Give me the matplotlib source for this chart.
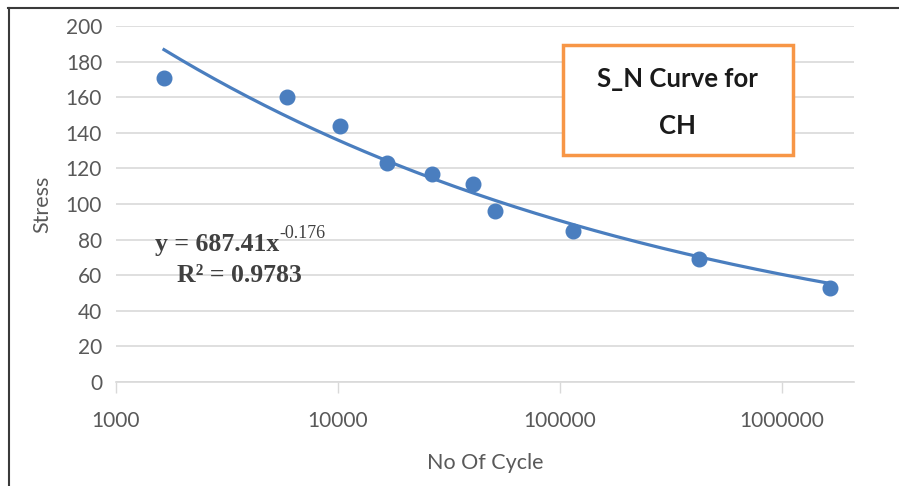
import numpy as np
import matplotlib
matplotlib.use("Agg")
import matplotlib.pyplot as plt
from matplotlib.lines import Line2D
from matplotlib.patches import FancyBboxPatch

cycles = [1645, 5890, 10200, 16600, 26500, 40500, 50900, 114500, 423000, 1640000]
stress = [171, 160, 144, 123, 117, 111, 96, 85, 69, 53]
fit_a = 687.41
fit_b = -0.176
x_ticks = [1000, 10000, 100000, 1000000]
x_tick_labels = ["1000", "10000", "100000", "1000000"]
y_ticks = list(range(0, 201, 20))

W, H = 899, 486
fig = plt.figure(figsize=(W / 100, H / 100), dpi=100)
fig.patch.set_facecolor("white")

left, right, top, bottom = 116, 854, 26, 382
ax = fig.add_axes([left / W, 1 - bottom / H, (right - left) / W, (bottom - top) / H])

blue = "#4A7EBF"
tick_color = "#595959"
font = "Lato"

ax.set_xscale("log")
ax.set_xlim(1000, 2.11e6)
ax.set_ylim(0, 200)

xf = np.logspace(np.log10(cycles[0]), np.log10(cycles[-1]), 200)
ax.plot(xf, fit_a * xf ** fit_b, color=blue, lw=2.3, zorder=3)
ax.plot(cycles, stress, "o", color=blue, ms=10.5, zorder=4)

ax.set_yticks(y_ticks)
ax.set_yticklabels([str(v) for v in y_ticks], fontsize=15, color=tick_color, family=font)
ax.set_xticks(x_ticks)
ax.set_xticklabels(x_tick_labels, fontsize=15, color=tick_color, family=font)
ax.xaxis.set_minor_locator(matplotlib.ticker.NullLocator())
ax.tick_params(axis="y", length=0, pad=10)
ax.tick_params(axis="x", length=8, width=1, color="#D9D9D9", direction="out", pad=13)
ax.grid(axis="y", color="#D9D9D9", lw=1.2)
ax.set_axisbelow(True)
for s in ["top", "right", "left"]:
    ax.spines[s].set_visible(False)
ax.spines["bottom"].set_color("#D9D9D9")
ax.spines["bottom"].set_linewidth(1.2)

ax.set_ylabel("Stress", fontsize=15.5, color=tick_color, family=font, labelpad=10)
ax.set_xlabel("No Of Cycle", fontsize=15.5, color=tick_color, family=font, labelpad=16)

fig.text(155 / W, 1 - 244 / H, "y = 687.41x", fontsize=18.5,
         family="Liberation Serif", weight="bold", color="#404040", va="center", ha="left")
fig.text(279 / W, 1 - 233 / H, "-0.176", fontsize=13,
         family="Liberation Serif", color="#404040", va="center", ha="left")
fig.text(177 / W, 1 - 275 / H, "R² = 0.9783", fontsize=18.5,
         family="Liberation Serif", weight="bold", color="#404040", va="center", ha="left")

box = FancyBboxPatch((563 / W, 1 - 155 / H), (793 - 563) / W, (155 - 45) / H,
                     boxstyle="square,pad=0", transform=fig.transFigure,
                     facecolor="white", edgecolor="#F79646", lw=2.5, zorder=5)
fig.add_artist(box)
fig.text(677 / W, 1 - 79 / H, "S_N Curve for", fontsize=18.5, weight="bold", family=font,
         color="#1a1a1a", ha="center", va="center", zorder=6)
fig.text(677 / W, 1 - 126 / H, "CH", fontsize=18.5, weight="bold", family=font,
         color="#1a1a1a", ha="center", va="center", zorder=6)

fig.add_artist(Line2D([8 / W, 1], [1 - 8 / H, 1 - 8 / H], transform=fig.transFigure,
                      color="#3a3a3a", lw=1.5))
fig.add_artist(Line2D([9 / W, 9 / W], [0, 1 - 8 / H], transform=fig.transFigure,
                      color="#3a3a3a", lw=1.5))

fig.savefig("out.png", dpi=100, facecolor="white")
